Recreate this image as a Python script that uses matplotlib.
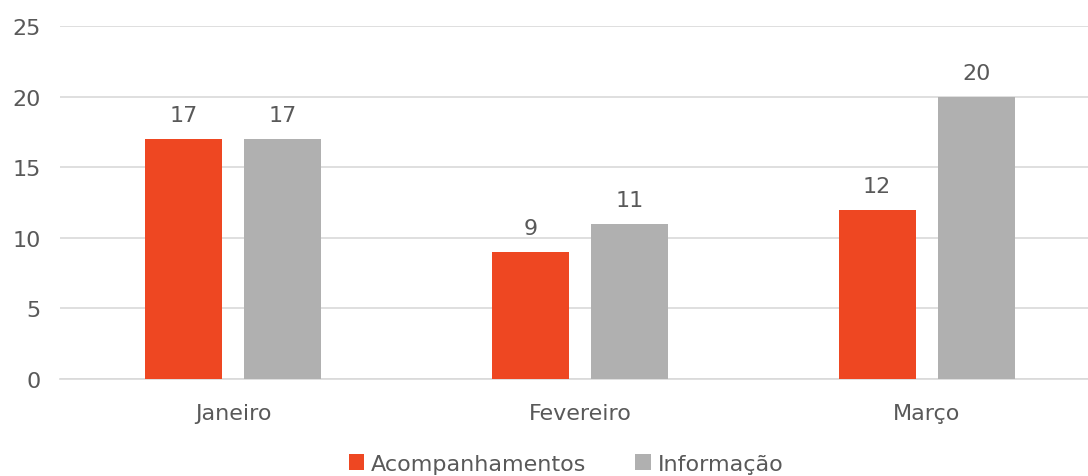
import matplotlib
matplotlib.use("Agg")
import matplotlib.pyplot as plt
import numpy as np

categories = ["Janeiro", "Fevereiro", "Março"]
series_names = ["Acompanhamentos", "Informação"]
acompanhamentos = [17, 9, 12]
informacao = [17, 11, 20]
yticks = [0, 5, 10, 15, 20, 25]

colors = ["#EE4722", "#B0B0B0"]
text_color = "#595959"
plt.rcParams['font.family'] = ['DejaVu Sans']

fig = plt.figure(figsize=(10.88, 4.77), dpi=100)
ax = fig.add_axes([60/1088, 1-380/477, 1040/1088, (380-27)/477])

x = np.arange(len(categories))
w = 0.222
off = 0.143
fs = 16
for vals, name, c, o in [(acompanhamentos, series_names[0], colors[0], -off),
                         (informacao, series_names[1], colors[1], off)]:
    bars = ax.bar(x + o, vals, w, color=c, label=name, zorder=3)
    for b, v in zip(bars, vals):
        ax.annotate(str(v), (b.get_x() + b.get_width()/2, v), xytext=(0, 10),
                    textcoords="offset points", ha="center", va="bottom",
                    fontsize=fs, color=text_color)

ax.set_xlim(-0.5, 2.5)
ax.set_ylim(0, 25)
ax.set_yticks(yticks)
ax.set_xticks(x)
ax.set_xticklabels(categories)
ax.grid(axis="y", color="#D9D9D9", linewidth=1.2, zorder=0)
for s in ["top", "right", "left"]:
    ax.spines[s].set_visible(False)
ax.spines["bottom"].set_color("#D9D9D9")
ax.spines["bottom"].set_linewidth(1.2)
ax.tick_params(axis="both", length=0, labelsize=fs, colors=text_color)
ax.tick_params(axis="y", pad=14)
ax.tick_params(axis="x", pad=17)

leg = fig.legend(loc="center", bbox_to_anchor=(566/1088, 1-465/477), ncol=2,
                 frameon=False, fontsize=fs, handlelength=0.7, handleheight=0.7,
                 handletextpad=0.3, columnspacing=2.2)
for t in leg.get_texts():
    t.set_color(text_color)

fig.savefig("out.png", dpi=100)
